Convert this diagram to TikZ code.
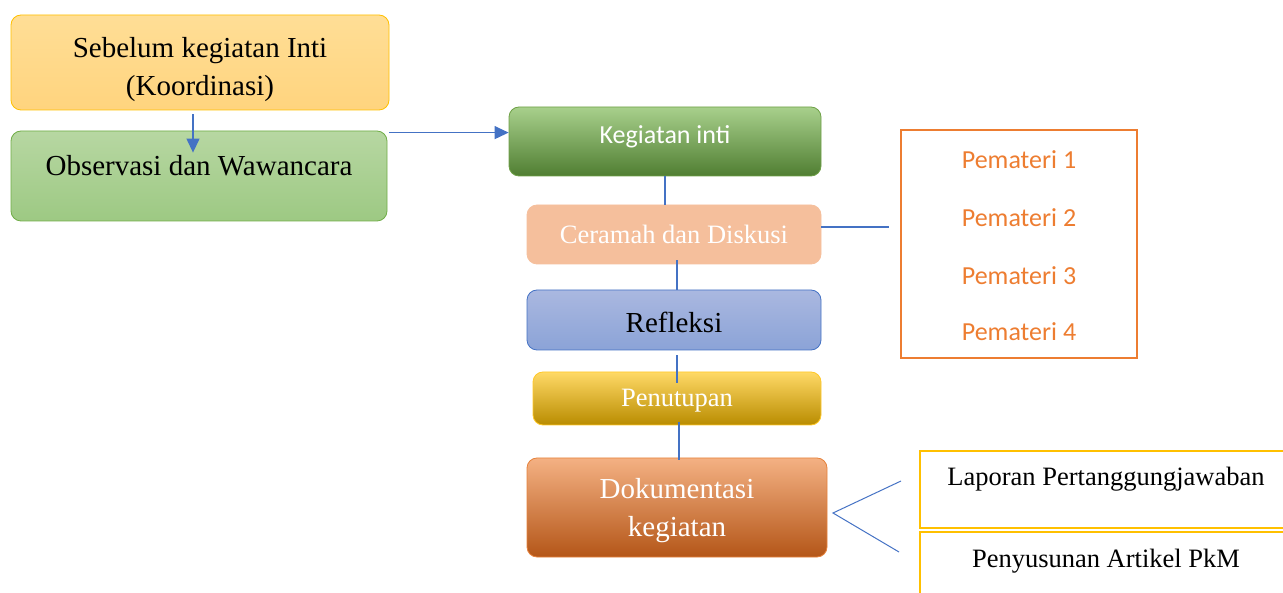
\documentclass[tikz,border=0pt]{standalone}
\usepackage{fontspec}
\setmainfont{Liberation Serif}
\newfontfamily\calib{Carlito}
\usetikzlibrary{arrows.meta,positioning}
\definecolor{cblue}{HTML}{4472C4}
\definecolor{corange}{HTML}{ED7D31}
\definecolor{cgold}{HTML}{FFC000}
\definecolor{cgreen}{HTML}{70AD47}
\tikzset{
  rbox/.style={rounded corners=10pt, line width=0.8pt, inner sep=0pt, align=center},
  conn/.style={draw=cblue, line width=1.2pt},
  arrow/.style={conn, -{Triangle[length=14pt,width=13pt]}},
  serif26/.style={font=\fontsize{26.5}{31}\selectfont},
  serif29/.style={font=\fontsize{29}{38}\selectfont},
  txt/.style={inner sep=0pt, align=center},
}
\begin{document}
\begin{tikzpicture}[x=1pt,y=-1pt]
\useasboundingbox (0,0) rectangle (1283,593);
% left column
\node[rbox, draw=cgold, top color={rgb,255:red,255;green,222;blue,150}, bottom color={rgb,255:red,255;green,212;blue,126},
  minimum width=378pt, minimum height=95pt] (seb) at (200,62.5) {};
\node[txt, serif29] (sebt) at (200,70) {Sebelum kegiatan Inti\\(Koordinasi)};
\node[rbox, draw=cgreen, top color={rgb,255:red,183;green,215;blue,162}, bottom color={rgb,255:red,157;green,201;blue,131},
  minimum width=376pt, minimum height=90pt] (obs) at (199,176) {};
\node[txt, serif29] (obst) at (199,166) {Observasi dan Wawancara};
% center column
\node[rbox, draw={rgb,255:red,110;green,160;blue,70}, top color={rgb,255:red,168;green,208;blue,140}, middle color={rgb,255:red,114;green,175;blue,68}, bottom color={rgb,255:red,80;green,126;blue,50},
  minimum width=312pt, minimum height=69pt] (keg) at (665,141.5) {};
\node[txt, text=white, font=\calib\fontsize{26}{30}\selectfont] (kegt) at (665,137) {Kegiatan inti};
\node[rbox, draw={rgb,255:red,245;green,191;blue,156}, fill={rgb,255:red,245;green,191;blue,156},
  minimum width=294pt, minimum height=59pt] (cer) at (674,234.5) {};
\node[txt, text=white, serif26] (cert) at (674,234) {Ceramah dan Diskusi};
\node[rbox, draw=cblue, top color={rgb,255:red,170;green,184;blue,224}, bottom color={rgb,255:red,139;green,163;blue,215},
  minimum width=294pt, minimum height=60pt] (ref) at (674,320) {};
\node[txt, serif29] (reft) at (674,322) {Refleksi};
\node[rbox, draw={rgb,255:red,255;green,200;blue,40}, top color={rgb,255:red,255;green,217;blue,102}, middle color=cgold, bottom color={rgb,255:red,185;green,140;blue,0},
  minimum width=288pt, minimum height=53pt] (pen) at (677,398.5) {};
\node[txt, text=white, serif26] (pent) at (677,401) {Penutupan};
\node[rbox, draw={rgb,255:red,230;green,130;blue,60}, top color={rgb,255:red,244;green,177;blue,131}, middle color=corange, bottom color={rgb,255:red,180;green,86;blue,24},
  minimum width=300pt, minimum height=99pt] (dok) at (677,507.5) {};
\node[txt, text=white, serif29] (dokt) at (677,511) {Dokumentasi\\kegiatan};
% right side
\node[draw=corange, line width=1.5pt, minimum width=236pt, minimum height=228pt, inner sep=0pt] (pem) at (1019,244) {};
\foreach \i/\y in {1/160,2/218,3/276,4/332}
  \node[txt, text=corange, font=\calib\fontsize{26}{30}\selectfont] (pm\i) at (1019,\y) {Pemateri \i};
\begin{scope}
\clip (0,0) rectangle (1283,593);
\node[draw=cgold, line width=2.5pt, minimum width=380pt, minimum height=77pt, inner sep=0pt] (lap) at (1110,489.5) {};
\node[draw=cgold, line width=2.5pt, minimum width=380pt, minimum height=80pt, inner sep=0pt] (art) at (1110,572) {};
\end{scope}
\node[txt, serif26] (lapt) at (1106,479) {Laporan Pertanggungjawaban};
\node[txt, serif26] (artt) at (1106,561) {Penyusunan Artikel PkM};
% connectors
\draw[arrow] ([xshift=-7pt,yshift=-4pt]seb.south) -- ([xshift=-6pt,yshift=-22pt]obs.north);
\draw[arrow] ([xshift=2pt,yshift=-2pt]obs.north east) -- ([yshift=-2pt]obs.north east -| keg.west);
\draw[conn] (keg.south) -- (keg.south |- cer.north);
\draw[conn] ([xshift=3pt,yshift=4pt]cer.south) -- ([xshift=3pt]ref.north);
\draw[conn] ([xshift=3pt,yshift=-5pt]ref.south) -- ([yshift=-11pt]pen.north);
\draw[conn] ([xshift=2pt,yshift=3pt]pen.south) -- ([xshift=2pt,yshift=-2pt]dok.north);
\coordinate (cerend) at (889,227);
\draw[conn] (cer.east |- cerend) -- (cerend);
\coordinate (chtop) at (901,481);
\coordinate (chtip) at (833,513);
\coordinate (chbot) at (899,552);
\draw[conn, line width=1pt] (chtop) -- (chtip) -- (chbot);
\end{tikzpicture}
\end{document}
